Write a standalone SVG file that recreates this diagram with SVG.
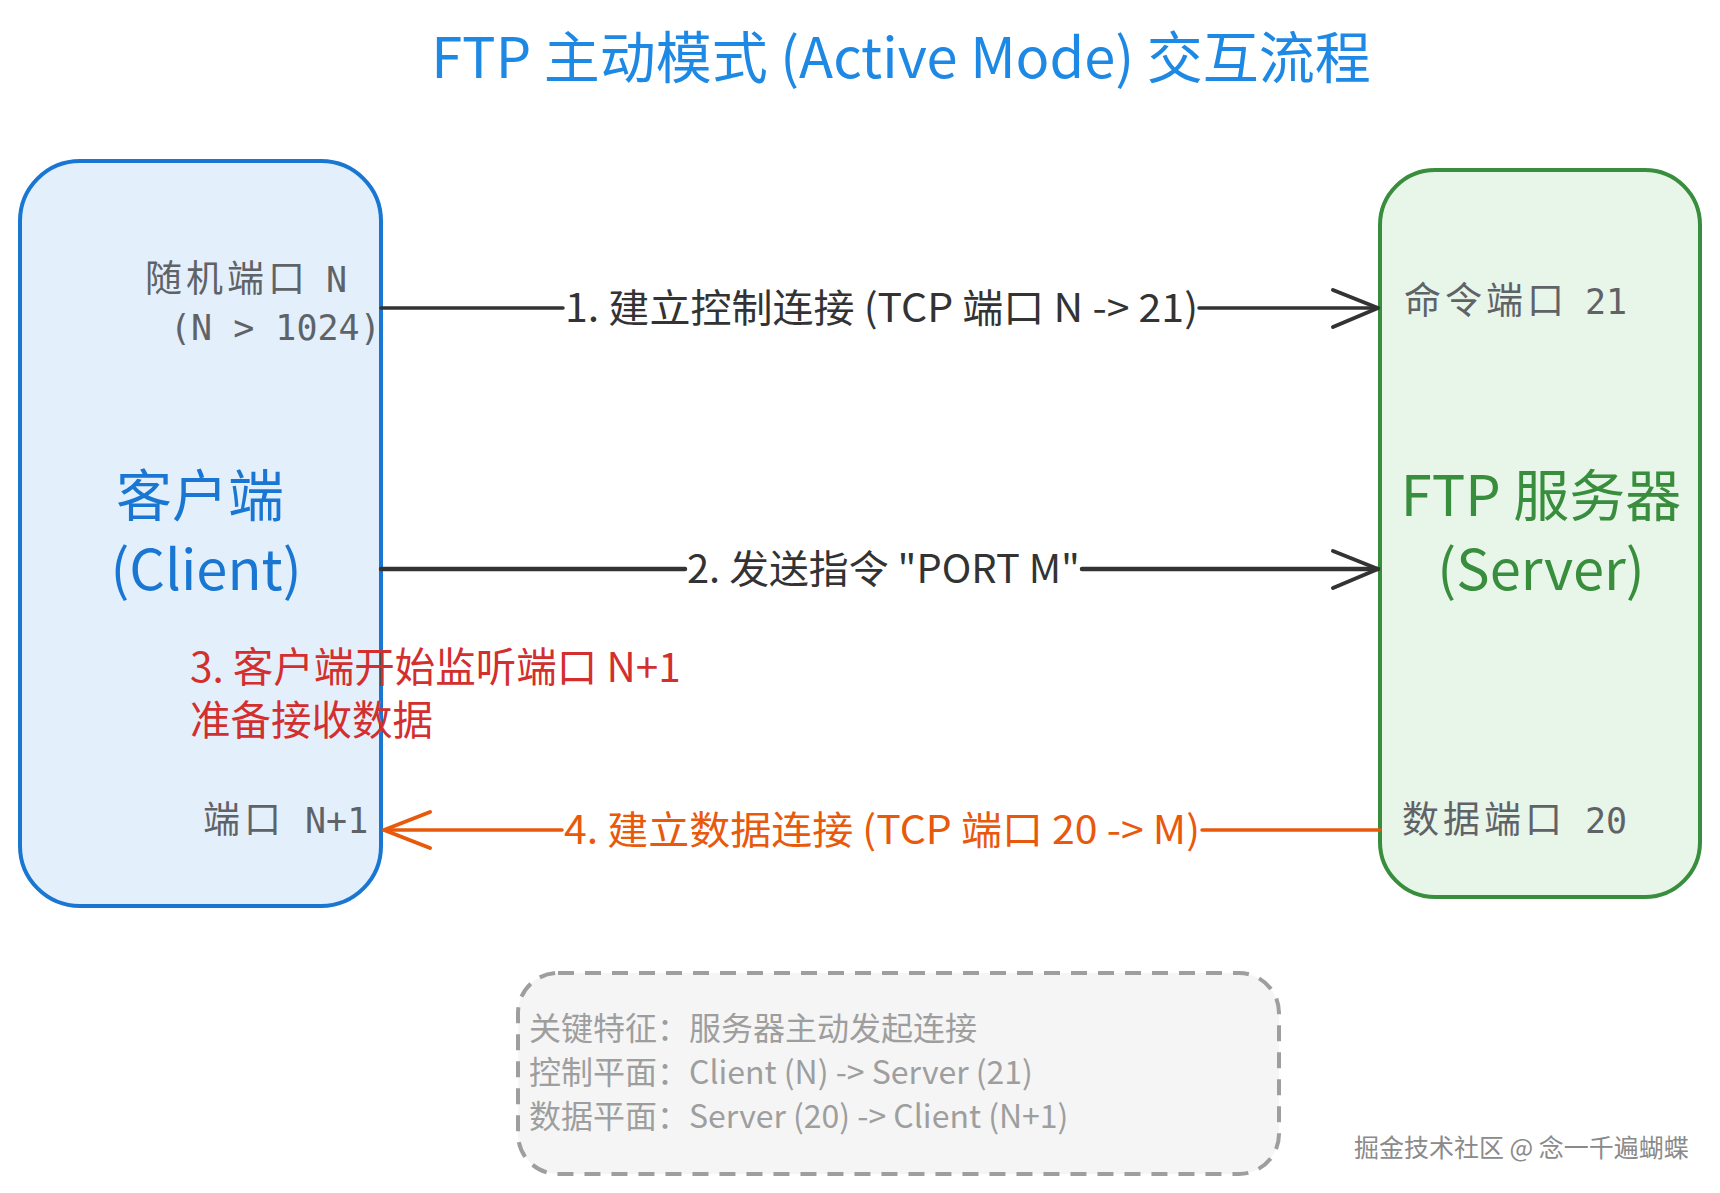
<svg xmlns="http://www.w3.org/2000/svg" width="1720" height="1193" viewBox="0 0 1720 1193">
<style>
.cjk{font-family:"Noto Sans CJK SC","Noto Sans",sans-serif}
.mono{font-family:"DejaVu Sans Mono","Noto Sans CJK SC",monospace;font-size:35px;fill:#5f6368}
.mcjk{font-family:"Noto Sans CJK SC",sans-serif;font-size:37px;letter-spacing:4px;fill:#5f6368}
.lbl{font-family:"Noto Sans CJK SC",sans-serif;font-size:39px}
.note{font-family:"Noto Sans CJK SC",sans-serif;font-size:32px;fill:#9e9e9e}
.ln{fill:none;stroke-linecap:round;stroke-linejoin:round}
</style>
<rect width="1720" height="1193" fill="#ffffff"/>
<text class="cjk" x="901" y="78" font-size="56" fill="#1e88e5" text-anchor="middle">FTP 主动模式 (Active Mode) 交互流程</text>

<g id="client">
<rect x="20" y="161" width="361" height="745" rx="60" fill="#e3f0fc" stroke="#1976d2" stroke-width="4"/>
<text class="mcjk" x="145" y="292">随机端口</text>
<text class="mono" x="326" y="292">N</text>
<text class="mono" x="170" y="340">(N &gt; 1024)</text>
<text class="cjk" x="200" y="516" font-size="56" fill="#1976d2" text-anchor="middle">客户端</text>
<text class="cjk" x="206" y="590" font-size="56" fill="#1976d2" text-anchor="middle">(Client)</text>
<text class="mcjk" x="203" y="833">端口</text>
<text class="mono" x="305" y="833">N+1</text>
</g>

<g id="server">
<rect x="1380" y="170" width="320" height="727" rx="55" fill="#e8f5e9" stroke="#388e3c" stroke-width="4"/>
<text class="mcjk" x="1404" y="314">命令端口</text>
<text class="mono" x="1585" y="314">21</text>
<text class="cjk" x="1541" y="516" font-size="56" fill="#388e3c" text-anchor="middle">FTP 服务器</text>
<text class="cjk" x="1541" y="590" font-size="56" fill="#388e3c" text-anchor="middle">(Server)</text>
<text class="mcjk" x="1402" y="833">数据端口</text>
<text class="mono" x="1585" y="833">20</text>
</g>

<g id="note-listen">
<text class="cjk" x="190" y="682" font-size="40.5" fill="#d32f2f">3. 客户端开始监听端口 N+1</text>
<text class="cjk" x="190" y="735" font-size="40.5" fill="#d32f2f">准备接收数据</text>
</g>

<g id="connectors">
<g id="c1">
<path class="ln" d="M381 308 L563 308 M1199 308 L1378 308" stroke="#333333" stroke-width="3.5"/>
<path class="ln" d="M1333 290 L1378 308 L1333 327" stroke="#333333" stroke-width="4"/>
<text class="lbl" x="565" y="322" fill="#333333" textLength="633" lengthAdjust="spacingAndGlyphs">1. 建立控制连接 (TCP 端口 N -&gt; 21)</text>
</g>
<g id="c2">
<path class="ln" d="M381 569 L685 569 M1082 569 L1378 569" stroke="#333333" stroke-width="4.5"/>
<path class="ln" d="M1333 551 L1378 569 L1333 588" stroke="#333333" stroke-width="4"/>
<text class="lbl" x="687" y="583" fill="#333333" textLength="393" lengthAdjust="spacingAndGlyphs">2. 发送指令 "PORT M"</text>
</g>
<g id="c4">
<path class="ln" d="M1380 830 L1202 830 M562 830 L384 830" stroke="#e8590c" stroke-width="3.5"/>
<path class="ln" d="M430 812 L384 830 L430 848" stroke="#e8590c" stroke-width="4"/>
<text class="lbl" x="564" y="844" fill="#e8590c" textLength="636" lengthAdjust="spacingAndGlyphs">4. 建立数据连接 (TCP 端口 20 -&gt; M)</text>
</g>
</g>

<g id="summary">
<rect x="518" y="973" width="761" height="201" rx="40" fill="#f5f5f5" stroke="#9e9e9e" stroke-width="4" stroke-dasharray="16 11"/>
<text class="note" x="529" y="1040">关键特征：服务器主动发起连接</text>
<text class="note" x="529" y="1084">控制平面：Client (N) -&gt; Server (21)</text>
<text class="note" x="529" y="1128">数据平面：Server (20) -&gt; Client (N+1)</text>
</g>

<g id="watermark">
<text class="cjk" x="1356" y="1159" font-size="25" fill="#ffffff" stroke="#ffffff" stroke-width="1">掘金技术社区 @ 念一千遍蝴蝶</text>
<text class="cjk" x="1354" y="1157" font-size="25" fill="#8a8a8a">掘金技术社区 @ 念一千遍蝴蝶</text>
</g>
</svg>
